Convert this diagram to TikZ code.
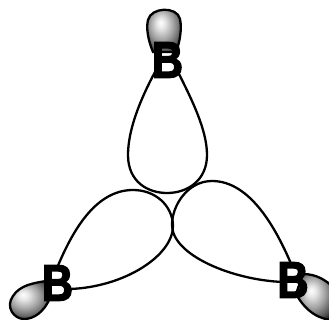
\documentclass[tikz,border=0pt]{standalone}
\usepackage{fontspec}
\setmainfont{Liberation Sans}
\newfontfamily\atomfont[FakeBold=3,FakeStretch=0.84]{Liberation Sans Bold}
\pgfdeclareradialshading{lobeshade}{\pgfpoint{-5bp}{7bp}}{color(0bp)=(white); color(6bp)=(white!90!black); color(17bp)=(white!62!black); color(27bp)=(white!32!black); color(35bp)=(black); color(50bp)=(black)}

\begin{document}
\begin{tikzpicture}[x=1pt, y=-1pt,
  atom/.style={font=\atomfont\fontsize{51}{51}\selectfont, inner sep=0pt, text=black},
  biglobe/.style={draw, line width=2.3pt},
  smalllobe/.style={draw, line width=2.3pt, shading=lobeshade}]
  \clip (0,0) rectangle (329,320);

  % small lobes
  \path [smalllobe] (153,52) .. controls (148,40) and (146,28) .. (148,20) .. controls (151,7) and (177,6) .. (180,19) .. controls (182,28) and (180,42) .. (176,52) -- cycle;
  \path [smalllobe] (46,281) .. controls (34,283) and (20,285) .. (13,296) .. controls (5,307) and (14,319) .. (24,319) .. controls (34,319) and (44,312) .. (50,298) -- cycle;
  \path [smalllobe] (303,274) .. controls (316,274) and (326,280) .. (334,288) -- (334,320) .. controls (320,320) and (306,312) .. (296,294) -- cycle;

  % big lobes
  \draw [biglobe] (155,72) .. controls (140,100) and (128,130) .. (128,155) .. controls (128,182) and (148,193) .. (167,193) .. controls (188,193) and (207,180) .. (207,155) .. controls (207,130) and (192,100) .. (178,72);
  \draw [biglobe] (57,268) .. controls (72,232) and (95,190) .. (133,190) .. controls (155,190) and (172,205) .. (173,225) .. controls (174,255) and (125,287) .. (70,289);
  \draw [biglobe] (292,266) .. controls (276,228) and (250,181) .. (212,181) .. controls (188,181) and (172,205) .. (172,225) .. controls (172,255) and (232,280) .. (283,282);

  % boron atoms
  \node [atom] (top) at (167.5,60) {B};
  \node [atom] (left) at (57.5,283) {B};
  \node [atom] (right) at (293,280) {B};
\end{tikzpicture}
\end{document}
